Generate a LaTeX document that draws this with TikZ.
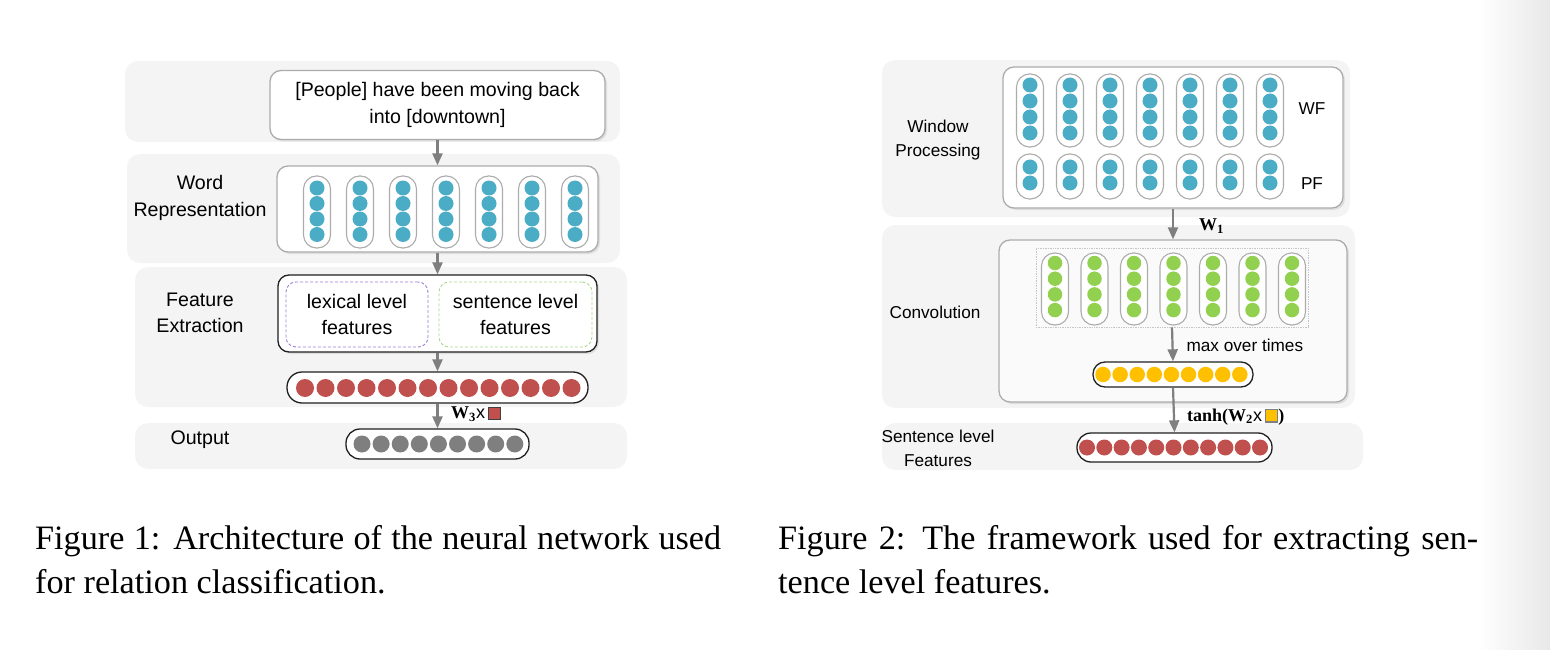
\documentclass[tikz,border=0pt]{standalone}
\usepackage{fontspec}
\setmainfont{Liberation Serif}
\setsansfont{Liberation Sans}
\usetikzlibrary{positioning,arrows.meta,shadows}
\definecolor{wblue}{HTML}{4BACC6}
\definecolor{wgreen}{HTML}{92D050}
\definecolor{wyellow}{HTML}{FFC000}
\definecolor{wred}{HTML}{C0504D}
\definecolor{wgray}{HTML}{7F7F7F}
\definecolor{wlex}{HTML}{9E7FD6}
\definecolor{wsen}{HTML}{A9D88B}
\newcommand{\lblfont}{\sffamily\fontsize{19.6}{26.5}\selectfont}
\newcommand{\smlfont}{\sffamily\fontsize{17.2}{24}\selectfont}
\newcommand{\wmat}[1]{\textbf{W}\textsubscript{\textbf{#1}}}
\newcommand{\sqbox}[2]{{\setlength{\fboxsep}{0pt}\setlength{\fboxrule}{1.2pt}\fcolorbox{#2}{#1}{\rule{0pt}{11pt}\rule{11pt}{0pt}}}}
\begin{document}
\begin{tikzpicture}[x=1pt, y=-1pt,
    band/.style={fill=gray!9, rounded corners=13pt},
    layer box/.style={draw=gray!65, fill=white, line width=1.3pt, rounded corners=11pt,
        drop shadow={opacity=0.18, shadow xshift=2pt, shadow yshift=-2pt}},
    vcap/.style={draw=gray!65, fill=white, line width=1.1pt, rounded corners=13pt,
        minimum width=27pt, inner sep=0pt},
    hcap/.style={draw=gray!25!black, fill=white, line width=1.3pt, inner sep=0pt},
    dot/.style={circle, inner sep=0pt, minimum size=15pt},
    blue dot/.style={dot, fill=wblue},
    green dot/.style={dot, fill=wgreen, minimum size=14.5pt},
    lbl/.style={align=center, font=\lblfont},
    sml/.style={align=center, font=\smlfont},
    flow/.style={-{Triangle[length=12pt,width=10pt]}, draw=wgray, line width=2.2pt},
    wlbl/.style={anchor=west, inner sep=0pt, font=\fontsize{18}{20}\selectfont},
    caption/.style={anchor=base west, inner sep=0pt, align=left, font=\fontsize{34.2}{43.4}\selectfont}]
  \useasboundingbox (0,0) rectangle (1550,650);
  % page edge
  \shade[left color=white, right color=gray!18] (1478,0) rectangle (1550,650);

  % ---- Figure 1 ----
  \fill[band] (125,61) rectangle (620,142);
  \fill[band] (127,154) rectangle (620,263);
  \fill[band] (135,267) rectangle (627,407);
  \fill[band] (135,423) rectangle (627,469);

  \node[layer box, minimum width=335pt, minimum height=69pt, lbl] (sent) at (437.5,105)
      {[People] have been moving back\\into [downtown]};

  \node[layer box, minimum width=321pt, minimum height=86pt] (wr) at (437.5,209) {};
  \foreach \i in {0,...,6}{
      \node[vcap, minimum height=72pt] (wc\i) at (317+43*\i,212) {};
      \foreach \j in {0,...,3}{
          \node[blue dot] (wd\i\j) at (317+43*\i,188+15.5*\j) {};
      }}
  \node[lbl] (wrlbl) at (200,198) {Word\\Representation};

  \node[layer box, draw=gray!25!black, minimum width=319pt, minimum height=77pt] (fe) at (437.5,313.5) {};
  \node[draw=wlex, densely dashed, rounded corners=10pt, line width=0.9pt, minimum width=142pt,
      minimum height=65pt, lbl] (lex) at (357,314.5) {lexical level\\features};
  \node[draw=wsen, densely dashed, rounded corners=10pt, line width=0.9pt, minimum width=153pt,
      minimum height=65pt, lbl] (sen) at (515.5,314.5) {sentence level\\features};
  \node[lbl] (felbl) at (200,313) {Feature\\Extraction};

  \node[hcap, rounded corners=15pt, minimum width=301pt, minimum height=31pt] (lred) at (437.5,387.5) {};
  \foreach \i in {0,...,13}{
      \node[dot, fill=wred, minimum size=18pt] (rd\i) at (305+20.5*\i,388) {};
  }

  \node[hcap, rounded corners=14pt, minimum width=183pt, minimum height=30pt] (outc) at (437.5,444) {};
  \foreach \i in {0,...,8}{
      \node[dot, fill=wgray, minimum size=17pt] (od\i) at (362+19.1*\i,444) {};
  }
  \node[lbl] (outlbl) at (200,440) {Output};

  \draw[flow] (sent.south) -- (wr.north);
  \draw[flow] (wr.south) -- (fe.north);
  \draw[flow] (fe.south) -- (lred.north);
  \draw[flow] (lred.south) -- (outc.north);
  \node[wlbl] (wthree) at (451,414) {\wmat{3}{\sffamily x}\,\sqbox{wred}{gray!50!black}};

  % ---- Figure 2 ----
  \fill[band] (882,60) rectangle (1350,217);
  \fill[band] (882,225) rectangle (1355,408);
  \fill[band] (882,423) rectangle (1363,470);

  \node[layer box, minimum width=340pt, minimum height=141pt] (wp) at (1173,137.5) {};
  \foreach \i in {0,...,6}{
      \node[vcap, minimum height=73pt] (wfc\i) at (1030+40*\i,110.5) {};
      \node[vcap, minimum height=45pt] (pfc\i) at (1030+40*\i,176.5) {};
      \foreach \j in {0,...,3}{
          \node[blue dot] (wfd\i\j) at (1030+40*\i,85+16*\j) {};
      }
      \foreach \j in {0,1}{
          \node[blue dot] (pfd\i\j) at (1030+40*\i,167+16*\j) {};
      }}
  \node[sml] (wflbl) at (1312,109) {WF};
  \node[sml] (pflbl) at (1312,184) {PF};
  \node[sml] (wplbl) at (938,140) {Window\\Processing};

  \node[layer box, fill=gray!4, minimum width=348pt, minimum height=162pt] (conv) at (1173,321) {};
  \node[draw=gray!45, densely dotted, line width=0.7pt, minimum width=272pt, minimum height=79pt] (cwin) at (1172,287.5) {};
  \foreach \i in {0,...,6}{
      \node[vcap, minimum height=72pt] (gc\i) at (1055+39.5*\i,289) {};
      \foreach \j in {0,...,3}{
          \node[green dot] (gd\i\j) at (1055+39.5*\i,263+15.7*\j) {};
      }}
  \node[sml] (convlbl) at (935,312) {Convolution};

  \node[hcap, rounded corners=12pt, minimum width=160pt, minimum height=25pt] (yel) at (1173,374.5) {};
  \foreach \i in {0,...,8}{
      \node[dot, fill=wyellow, minimum size=15.5pt] (yd\i) at (1103+17.1*\i,374.5) {};
  }
  \node[sml, anchor=west] (mot) at (1183,345) {max over times};

  \node[hcap, rounded corners=14pt, minimum width=195pt, minimum height=29pt] (sred) at (1174.5,447.5) {};
  \foreach \i in {0,...,10}{
      \node[dot, fill=wred, minimum size=16pt] (sd\i) at (1087+17.3*\i,447.5) {};
  }
  \node[sml] (sflbl) at (938,448) {Sentence level\\Features};

  \draw[flow] (wp.south) -- (conv.north);
  \draw[flow] (cwin.south) -- (yel.north);
  \draw[flow] (yel.south) -- (sred.north);
  \node[wlbl] (wone) at (1199,226) {\wmat{1}};
  \node[wlbl] (wtwo) at (1187,417) {\textbf{tanh(}\wmat{2}{\sffamily x}\,\sqbox{wyellow}{gray}\textbf{)}};

  % ---- captions ----
  \node[caption] (capone) at (35,593)
      {\makebox[686pt][s]{Figure 1: Architecture of the neural network used}\\for relation classification.};
  \node[caption] (captwo) at (778,593)
      {\makebox[700pt][s]{Figure 2: The framework used for extracting sen-}\\tence level features.};
\end{tikzpicture}
\end{document}
